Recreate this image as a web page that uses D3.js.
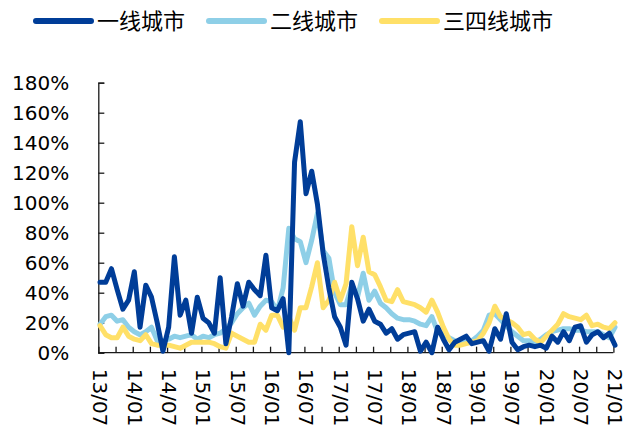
<!DOCTYPE html>
<html>
<head>
<meta charset="utf-8">
<script src="https://cdn.jsdelivr.net/npm/d3@7"></script>
<style>
  html, body { margin: 0; padding: 0; background: #fff; }
  svg { display: block; }
</style>
</head>
<body>
<svg id="chart" width="638" height="432"></svg>
<script>
// ---- data ----
const seriesNames = ["一线城市", "二线城市", "三四线城市"];
const seriesColors = ["#003d98", "#8ecfe7", "#ffe068"];
const tickLabels = ["13/07","14/01","14/07","15/01","15/07","16/01","16/07","17/01","17/07","18/01","18/07","19/01","19/07","20/01","20/07","21/01"];
const yTicks = [0, 20, 40, 60, 80, 100, 120, 140, 160, 180];
// monthly categories 2013/07 .. 2021/01
const categories = d3.timeMonth.range(new Date(2013, 6, 1), new Date(2021, 1, 1)).map(d3.timeFormat("%y/%m"));

const tier1 = [47,47,56,42,29,35,54,17,45,37,20,1,17,64,25,35,13,37,23,20,13,50,6,24,46,31,47,42,38,65,30,28,36,0,127,154,106,121,99,66,43,24,17,5,47,36,21,29,21,19,13,16,9,12,13,14,1,7,0,17,9,2,7,9,11,6,7,8,1,16,9,26,7,2,4,5,4,5,3,11,7,14,8,17,18,7,12,14,10,13,5];
const tier2 = [19,24,25,21,22,17,14,12,14,17,8,8,9,11,10,11,12,9,11,10,12,13,16,20,26,30,33,25,31,35,34,28,43,83,76,74,60,75,93,68,63,40,32,32,45,37,53,35,41,33,30,26,23,22,22,21,19,18,24,14,12,10,8,6,7,8,11,15,25,26,22,18,14,11,8,8,7,9,12,14,15,16,16,15,15,14,14,14,12,10,17];
const tier34 = [18,12,10,10,17,11,9,8,12,6,5,5,5,4,3,5,7,7,7,7,6,4,3,13,11,9,7,7,19,15,25,25,17,24,15,30,30,44,60,30,35,47,35,46,84,58,77,54,52,44,35,34,42,34,33,32,30,27,35,27,17,9,5,5,6,7,8,13,20,31,24,22,20,17,12,13,9,7,11,15,19,26,24,23,22,25,18,19,17,16,20];
const seriesValues = [tier1, tier2, tier34];

(function () {
  const svg = d3.select("#chart");
  const plotL = 98.3, plotR = 613.3, plotT = 82.7, plotB = 352.7;

  const x = d3.scalePoint().domain(categories).range([100, 615]);
  const y = d3.scaleLinear().domain([0, 180]).range([plotB, plotT]);

  // y axis
  const yAxis = d3.axisLeft(y).tickValues(yTicks).tickSize(-6).tickPadding(29)
    .tickFormat(d => d + "%");
  const gy = svg.append("g").attr("transform", `translate(${plotL},0)`).call(yAxis);
  gy.select(".domain").attr("stroke", "#1a1a1a").attr("stroke-width", 1.3);
  gy.selectAll(".tick line").attr("stroke", "#1a1a1a").attr("stroke-width", 1.3);
  gy.selectAll(".tick text").attr("font-family", "DejaVu Sans").attr("font-size", 20).attr("fill", "#000");

  // x axis ticks (quarterly)
  const quarterly = categories.filter((d, i) => i % 3 === 0);
  const xAxis = d3.axisBottom(x).tickValues(quarterly).tickSize(-6).tickFormat("");
  const gx = svg.append("g").attr("transform", `translate(-1.6,${plotB})`).call(xAxis);
  gx.select(".domain").attr("d", `M${plotL + 1.6},0H${plotR + 1.6}`).attr("stroke", "#1a1a1a").attr("stroke-width", 1.3);
  gx.selectAll(".tick line").attr("stroke", "#1a1a1a").attr("stroke-width", 1.3);

  // x labels
  const xLab = d3.axisBottom(x).tickValues(tickLabels).tickSize(0).tickFormat(d => d);
  const gl = svg.append("g").attr("transform", `translate(0,${plotB})`).call(xLab);
  gl.select(".domain").remove();
  gl.selectAll(".tick text")
    .attr("font-family", "DejaVu Sans").attr("font-size", 20).attr("fill", "#000")
    .attr("text-anchor", "start")
    .attr("transform", "rotate(90)")
    .attr("x", 16).attr("y", 0).attr("dy", "0.36em");

  // lines
  const line = d3.line().x((d, i) => x(categories[i])).y(d => y(d));
  const drawOrder = [1, 2, 0];
  drawOrder.forEach(s => {
    svg.append("path")
      .datum(seriesValues[s])
      .attr("d", line)
      .attr("fill", "none")
      .attr("stroke", seriesColors[s])
      .attr("stroke-width", 5)
      .attr("stroke-linejoin", "round")
      .attr("stroke-linecap", "round");
  });

  // legend
  const legendX = [36, 209, 382];
  const legendY = 21;
  const lg = svg.append("g");
  seriesNames.forEach((name, i) => {
    lg.append("line")
      .attr("x1", legendX[i]).attr("x2", legendX[i] + 55)
      .attr("y1", legendY).attr("y2", legendY)
      .attr("stroke", seriesColors[i]).attr("stroke-width", 6).attr("stroke-linecap", "round");
    lg.append("text")
      .attr("x", legendX[i] + 61).attr("y", legendY).attr("dy", "0.36em")
      .attr("font-family", "Noto Sans CJK SC").attr("font-size", 22).attr("fill", "#000")
      .text(name);
  });
})();
</script>
</body>
</html>
